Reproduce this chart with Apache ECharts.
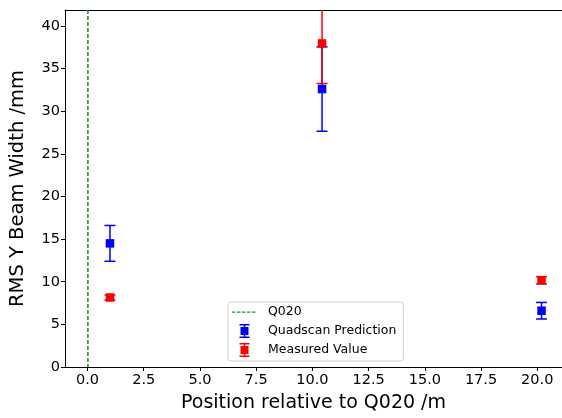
<!DOCTYPE html>
<html>
<head>
<meta charset="utf-8">
<script src="https://cdn.jsdelivr.net/npm/echarts@6/dist/echarts.min.js"></script>
<style>html,body{margin:0;padding:0;background:#fff}#c{width:562px;height:418px}</style>
</head>
<body>
<div id="c"></div>
<script>
// Data
var positions = [1.0, 10.43, 20.19];
var quadscanValues = [14.5, 32.6, 6.6];
var quadscanErrors = [2.1, 4.95, 0.97];
var measuredValues = [8.15, 37.95, 10.17];
var measuredErrors = [0.3, 4.7, 0.43];
var q020Position = 0;
var xTicks = [0, 2.5, 5, 7.5, 10, 12.5, 15, 17.5, 20];
var yTicks = [0, 5, 10, 15, 20, 25, 30, 35, 40];
var xMin = -1.0, xMax = 21.1, yMin = 0, yMax = 41.87;

var FONT = 'DejaVu Sans';

function buildErr(vals, errs) {
  return positions.map(function (x, i) {
    return [x, vals[i], vals[i] - errs[i], vals[i] + errs[i]];
  });
}

function errRender(color) {
  return function (params, api) {
    var cs = params.coordSys;
    var x = api.value(0);
    var c = api.coord([x, api.value(1)]);
    var lo = api.coord([x, api.value(2)]);
    var hi = api.coord([x, api.value(3)]);
    var top = cs.y, bot = cs.y + cs.height;
    var ly = Math.min(lo[1], bot), hy = Math.max(hi[1], top);
    var children = [{
      type: 'line', shape: {x1: c[0], y1: ly, x2: c[0], y2: hy},
      style: {stroke: color, lineWidth: 1.5}
    }];
    var capW = 5.5;
    if (lo[1] <= bot) children.push({type: 'line', shape: {x1: c[0] - capW, y1: lo[1], x2: c[0] + capW, y2: lo[1]}, style: {stroke: color, lineWidth: 1.5}});
    if (hi[1] >= top) children.push({type: 'line', shape: {x1: c[0] - capW, y1: hi[1], x2: c[0] + capW, y2: hi[1]}, style: {stroke: color, lineWidth: 1.5}});
    var s = 8.5;
    children.push({type: 'rect', shape: {x: c[0] - s / 2, y: c[1] - s / 2, width: s, height: s}, style: {fill: color}});
    return {type: 'group', children: children};
  };
}

function vlineRender(params, api) {
  var cs = params.coordSys;
  var p = api.coord([api.value(0), 0]);
  return {
    type: 'line',
    shape: {x1: p[0] + 0.4, y1: cs.y, x2: p[0] + 0.4, y2: cs.y + cs.height},
    style: {stroke: '#3c9c3c', lineWidth: 1.8, lineDash: [4, 2]}
  };
}

var errIcon = 'path://M0,0h10v1.5h-10z M4.25,0h1.5v14h-1.5z M0,12.5h10v1.5h-10z M1,3h8v8h-8z';
var dashIcon = 'path://M0,6.5h3.5v1.2h-3.5z M5,6.5h3.5v1.2h-3.5z M10,6.5h3.5v1.2h-3.5z M15,6.5h3.5v1.2h-3.5z M20,6.5h3.5v1.2h-3.5z M0,0h0.01v0.01h-0.01z M24.99,13.99h0.01v0.01h-0.01z';

var chart = echarts.init(document.getElementById('c'), null, {renderer: 'canvas'});
chart.setOption({
  animation: false,
  backgroundColor: '#fff',
  grid: {left: 64, top: 10, bottom: 50, right: 562 - (87 + 21.1 * 22.65) },
  xAxis: [{
    type: 'value', min: xMin, max: xMax,
    name: 'Position relative to Q020 /m', nameLocation: 'middle', nameGap: 27,
    nameTextStyle: {fontFamily: FONT, fontSize: 19, color: '#000'},
    axisLine: {show: true, onZero: false, lineStyle: {color: '#000', width: 1}},
    axisTick: {show: true, length: 4, customValues: xTicks, lineStyle: {color: '#000'}},
    axisLabel: {customValues: xTicks, fontFamily: FONT, fontSize: 14.5, color: '#000', margin: 6,
      formatter: function (v) { return v.toFixed(1); }},
    splitLine: {show: false}
  }, {
    type: 'value', position: 'top', min: xMin, max: xMax,
    axisLine: {show: true, onZero: false, lineStyle: {color: '#000', width: 1}},
    axisTick: {show: false}, axisLabel: {show: false}, splitLine: {show: false}
  }],
  yAxis: [{
    type: 'value', min: yMin, max: yMax,
    name: 'RMS Y Beam Width /mm', nameLocation: 'middle', nameGap: 37,
    nameTextStyle: {fontFamily: FONT, fontSize: 19.5, color: '#000'},
    axisLine: {show: true, onZero: false, lineStyle: {color: '#000', width: 1}},
    axisTick: {show: true, length: 4, customValues: yTicks, lineStyle: {color: '#000'}},
    axisLabel: {customValues: yTicks, fontFamily: FONT, fontSize: 14.5, color: '#000', margin: 5},
    splitLine: {show: false}
  }],
  legend: {
    orient: 'vertical', left: 228, top: 302,
    padding: [3, 7, 4, 4], itemGap: 5, itemWidth: 25, itemHeight: 14,
    backgroundColor: 'rgba(255,255,255,0.8)', borderColor: '#d0d0d0', borderWidth: 1, borderRadius: 3,
    textStyle: {fontFamily: FONT, fontSize: 12.5, color: '#000', padding: [0, 0, 0, 6]},
    data: [
      {name: 'Q020', icon: dashIcon, itemStyle: {color: '#2a922a'}},
      {name: 'Quadscan Prediction', icon: errIcon},
      {name: 'Measured Value', icon: errIcon}
    ]
  },
  series: [{
    name: 'Q020', type: 'custom', color: '#3c9c3c',
    renderItem: vlineRender,
    encode: {x: 0},
    data: [[q020Position]]
  }, {
    name: 'Quadscan Prediction', type: 'custom', color: '#0000ff',
    renderItem: errRender('#0000ff'),
    encode: {x: 0, y: 1},
    data: buildErr(quadscanValues, quadscanErrors)
  }, {
    name: 'Measured Value', type: 'custom', color: '#ff0000',
    renderItem: errRender('#ff0000'),
    encode: {x: 0, y: 1},
    data: buildErr(measuredValues, measuredErrors)
  }]
});
</script>
</body>
</html>
